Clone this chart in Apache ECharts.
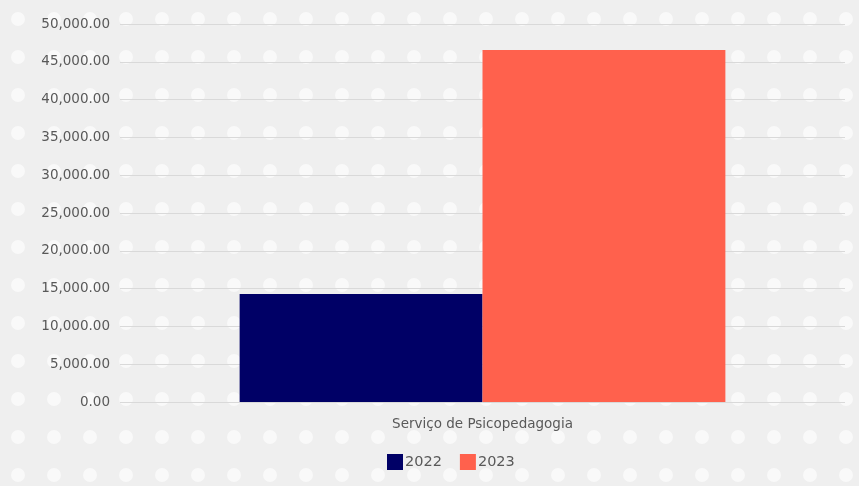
<!DOCTYPE html>
<html><head><meta charset="utf-8">
<script src="https://cdn.jsdelivr.net/npm/echarts@6/dist/echarts.min.js"></script>
<style>html,body{margin:0;padding:0;background:#f1f1f1}#c{width:859px;height:486px}</style>
</head><body><div id="c"></div>
<script>
const categories = ['Serviço de Psicopedagogia'];
const seriesNames = ['2022', '2023'];
const values2022 = [14300];
const values2023 = [46550];
const yTicks = [0, 5000, 10000, 15000, 20000, 25000, 30000, 35000, 40000, 45000, 50000];

// dotted background pattern
const pc = document.createElement('canvas');
pc.width = 36; pc.height = 38;
const ctx = pc.getContext('2d');
ctx.fillStyle = '#efefef'; ctx.fillRect(0,0,36,38);
ctx.fillStyle = 'rgba(255,255,255,0.6)';
ctx.beginPath(); ctx.arc(18,19,7,0,Math.PI*2); ctx.fill();

const chart = echarts.init(document.getElementById('c'));
const fmt = v => v.toLocaleString('en-US',{minimumFractionDigits:2, maximumFractionDigits:2});
chart.setOption({
  backgroundColor: {image: pc, repeat: 'repeat'},
  textStyle: {fontFamily: 'DejaVu Sans'},
  grid: {left: 120, right: 14, top: 24, bottom: 84},
  legend: {
    data: seriesNames, top: 449, left: 382, icon: 'rect',
    itemWidth: 16, itemHeight: 16, itemGap: 18,
    textStyle: {color: '#595959', fontSize: 14.5, padding: [0,0,0,-3]}
  },
  xAxis: {
    type: 'category', data: categories,
    axisLine: {show: false}, axisTick: {show: false},
    axisLabel: {color: '#595959', fontSize: 13.5, margin: 15}
  },
  yAxis: {
    type: 'value', min: yTicks[0], max: yTicks[yTicks.length-1], interval: 5000,
    axisLabel: {color: '#595959', fontSize: 13.5, margin: 10, formatter: fmt},
    splitLine: {lineStyle: {color: '#d9d9d9', width: 1}}
  },
  series: [
    {name: seriesNames[0], type: 'bar', data: values2022, itemStyle: {color: '#000066'}, barGap: '0%', barCategoryGap: '33%'},
    {name: seriesNames[1], type: 'bar', data: values2023, itemStyle: {color: '#FF614D'}}
  ]
});
</script></body></html>
